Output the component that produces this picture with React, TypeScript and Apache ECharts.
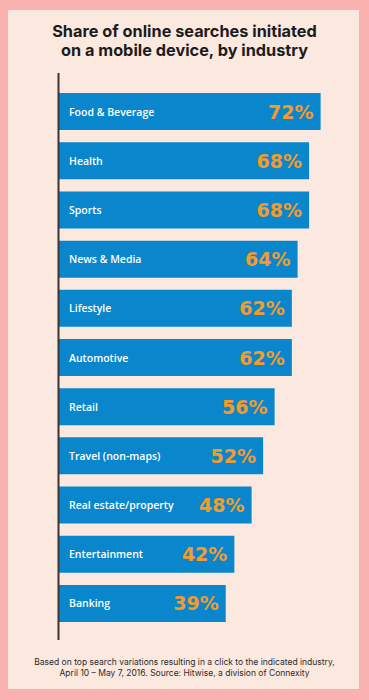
import React, { useEffect, useRef } from "react";
import * as echarts from "echarts";

const categories = [
  "Food & Beverage",
  "Health",
  "Sports",
  "News & Media",
  "Lifestyle",
  "Automotive",
  "Retail",
  "Travel (non-maps)",
  "Real estate/property",
  "Entertainment",
  "Banking",
];
const shares = [72, 68, 68, 64, 62, 62, 56, 52, 48, 42, 39];

const titleText = "Share of online searches initiated\non a mobile device, by industry";
const footerText =
  "Based on top search variations resulting in a click to the indicated industry,\nApril 10 \u2013 May 7, 2016. Source: Hitwise, a division of Connexity";

export default function App() {
  const ref = useRef<HTMLDivElement>(null);
  useEffect(() => {
    if (!ref.current) return;
    const chart = echarts.init(ref.current, null, { renderer: "svg" });
    chart.setOption({
      animation: false,
      backgroundColor: "#FAB2B1",
      graphic: [
        {
          type: "rect",
          z: -10,
          shape: { x: 8, y: 10, width: 351, height: 679 },
          style: { fill: "#FBE8DE" },
        },
        {
          type: "line",
          z: 100,
          shape: { x1: 58.5, y1: 73, x2: 58.5, y2: 640 },
          style: { stroke: "#3d3535", lineWidth: 2 },
        },
        {
          type: "text",
          x: 184.5,
          y: 21,
          style: {
            text: titleText,
            align: "center",
            verticalAlign: "top",
            fontFamily: "Inter",
            fontSize: 16.3,
            lineHeight: 19,
            fontWeight: "bold",
            fill: "#1c1c1c",
          },
        },
        {
          type: "text",
          x: 184.5,
          y: 657,
          style: {
            text: footerText,
            align: "center",
            verticalAlign: "top",
            fontFamily: "Inter",
            fontSize: 8.5,
            lineHeight: 10.5,
            fill: "#2b2b2b",
          },
        },
      ],
      grid: { left: 59, top: 87, width: 284.6, height: 541, containLabel: false },
      xAxis: {
        type: "value",
        min: -19,
        max: 80,
        startValue: -19,
        show: false,
      },
      yAxis: {
        type: "category",
        data: categories,
        inverse: true,
        z: 10,
        axisLine: { show: false, onZero: false },
        axisTick: { show: false },
        axisLabel: {
          inside: true,
          margin: 10,
          color: "#ffffff",
          fontFamily: "Open Sans",
          fontSize: 10.5,
          fontWeight: 600,
        },
      },
      series: [
        {
          type: "bar",
          data: shares,
          barWidth: 37,
          itemStyle: { color: "#0A87CC" },
          label: {
            show: true,
            position: "insideRight",
            distance: 7,
            formatter: "{c}%",
            color: "#F39B2C",
            fontFamily: "DejaVu Sans",
            fontWeight: "bold",
            fontSize: 19,
          },
        },
      ],
    });
    return () => chart.dispose();
  }, []);
  return (
    <div
      ref={ref}
      style={{ position: "absolute", left: 0, top: 0, width: 369, height: 700 }}
    />
  );
}
